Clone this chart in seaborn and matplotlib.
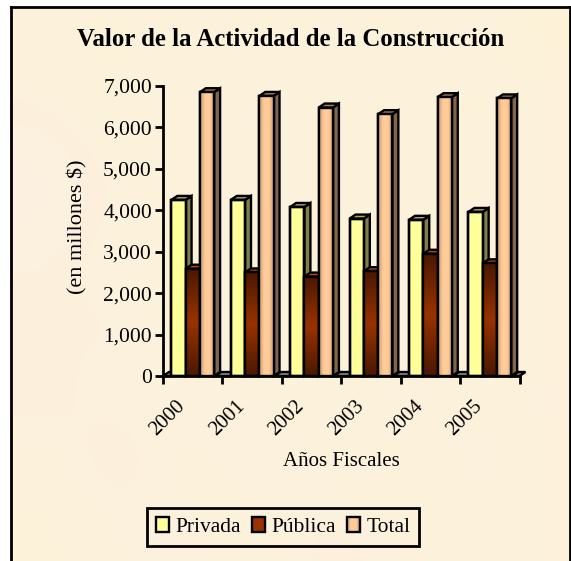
import numpy as np
import pandas as pd
import matplotlib
matplotlib.use("Agg")
import matplotlib.pyplot as plt
from matplotlib.patches import Patch, Polygon, Rectangle
from matplotlib.colors import LinearSegmentedColormap
from matplotlib.legend_handler import HandlerBase
from matplotlib.ticker import FuncFormatter, FixedLocator
from matplotlib.transforms import ScaledTranslation
import seaborn as sns

years = ["2000", "2001", "2002", "2003", "2004", "2005"]
privada = [4250, 4250, 4080, 3800, 3770, 3960]
publica = [2590, 2500, 2400, 2530, 2950, 2720]
total = [6850, 6760, 6480, 6320, 6730, 6700]
series = ["Privada", "Pública", "Total"]
y_ticks = [0, 1000, 2000, 3000, 4000, 5000, 6000, 7000]

W, H = 571, 561
sns.set_theme(style="white")
plt.rcParams["font.family"] = ["Liberation Serif", "DejaVu Serif"]

df = pd.DataFrame({
    "Año": years * 3,
    "Valor": privada + publica + total,
    "Serie": sum([[s] * len(years) for s in series], []),
})

fig = plt.figure(figsize=(W / 100, H / 100), dpi=100, facecolor="white")

# parchment panel
bg = fig.add_axes([11 / W, -6 / H, (W - 11 - 1) / W, (H - 7 + 6) / H], zorder=0)
tints = np.array([
    [0.25, 0.15, 0.30, 0.10, 0.25, 0.15, 0.30, 0.10],
    [0.35, 0.10, 0.30, 0.40, 0.15, 0.35, 0.10, 0.30],
    [0.60, 0.35, 0.15, 0.25, 0.35, 0.20, 0.30, 0.15],
    [0.45, 0.20, 0.35, 0.45, 0.20, 0.40, 0.15, 0.30],
    [0.30, 0.40, 0.20, 0.15, 0.35, 0.25, 0.40, 0.20],
    [0.40, 0.25, 0.40, 0.30, 0.20, 0.40, 0.20, 0.35],
    [0.25, 0.45, 0.20, 0.40, 0.30, 0.15, 0.40, 0.25],
    [0.15, 0.30, 0.35, 0.20, 0.40, 0.30, 0.20, 0.30],
])
paper = LinearSegmentedColormap.from_list("paper", ["#FDF3D6", "#FCF0E0", "#FFF6F0"])
bg.imshow(tints, cmap=paper, vmin=0, vmax=1, aspect="auto", interpolation="bicubic")
bg.set_xticks([]); bg.set_yticks([])
for k, s in bg.spines.items():
    s.set_linewidth(2)
    s.set_color("black")

ax = fig.add_axes([163 / W, 1 - 376 / H, (519.5 - 163) / W, (376 - 86) / H], zorder=1)
ax.patch.set_alpha(0)
palette = {"Privada": "#FFFF99", "Pública": "#993300", "Total": "#FFCC99"}
LW = 1.7
sns.barplot(data=df, x="Año", y="Valor", hue="Serie", palette=palette, width=0.72,
            gap=0, saturation=1, edgecolor="black", linewidth=LW, legend=False, ax=ax)
ax.set_xlim(-0.5, 5.5)
ax.set_ylim(0, 7000)

px_x = 6 * 6 / (519.5 - 163)      # depth, converted to data units
px_y = 4 * 7000 / (376 - 86)
side = {"Privada": "#7F7F4D", "Pública": "#4D1A00", "Total": "#806650"}
top = {"Privada": "#A8A868", "Pública": "#B34A10", "Total": "#A88058"}
brown = LinearSegmentedColormap.from_list("b", ["#4A1800", "#993300", "#4A1800"])
tan = LinearSegmentedColormap.from_list("t", ["#C99A70", "#FFCC99", "#FFCC99", "#C99A70"])

bars = list(ax.patches)
n = len(years)
for i, name in enumerate(series):
    for j in range(n):
        b = bars[i * n + j]
        x0, w, h = b.get_x(), b.get_width(), b.get_height()
        x1 = x0 + w
        z = 3 + j * 10 + i * 3
        b.set_zorder(z)
        ax.add_patch(Polygon([(x1, 0), (x1 + px_x, px_y), (x1 + px_x, h + px_y), (x1, h)],
                             fc=side[name], ec="black", lw=LW, zorder=z - 1, clip_on=False))
        ax.add_patch(Polygon([(x0, h), (x0 + px_x, h + px_y), (x1 + px_x, h + px_y), (x1, h)],
                             fc=top[name], ec="black", lw=LW, zorder=z - 1, clip_on=False))
        if name == "Pública":
            ax.imshow(np.linspace(0, 1, 64).reshape(-1, 1), cmap=brown, aspect="auto",
                      extent=(x0, x1, 0, h), zorder=z + 0.1)
        elif name == "Total":
            ax.imshow(np.linspace(0, 1, 32).reshape(1, -1), cmap=tan, aspect="auto",
                      extent=(x0, x1, 0, h), zorder=z + 0.1)
        ax.add_patch(Rectangle((x0, 0), w, h, fc="none", ec="black", lw=LW, zorder=z + 0.2))

# floor slabs of the empty slots between groups
half = bars[0].get_width() / 2
for c in range(n + 1):
    pos = c - 0.5
    left = max(pos - half, -0.5)
    right = min(pos + half, 5.5)
    if c == n:
        right = pos
    ax.add_patch(Polygon([(left, 0), (left + px_x, px_y), (right + px_x, px_y), (right, 0)],
                         fc="#8C8C8C", ec="black", lw=LW, zorder=2, clip_on=False))

ax.set_xlim(-0.5, 5.5)
ax.set_ylim(0, 7000)

for s in ["top", "right"]:
    ax.spines[s].set_visible(False)
for s in ["left", "bottom"]:
    ax.spines[s].set_linewidth(2)
    ax.spines[s].set_color("black")
    ax.spines[s].set_zorder(200)

ax.set_yticks(y_ticks)
ax.yaxis.set_major_formatter(FuncFormatter(lambda v, _: f"{int(v):,}"))
ax.tick_params(axis="y", length=6, width=2, color="black", labelsize=15.5, pad=2,
               left=True, labelcolor="black")
ax.xaxis.set_minor_locator(FixedLocator([c - 0.5 for c in range(n + 1)]))
ax.tick_params(axis="x", which="minor", length=6, width=2, color="black", bottom=True)
ax.tick_params(axis="x", which="major", length=0, labelsize=15, pad=20, labelcolor="black")
shift = ScaledTranslation(-10 / 100, 0, fig.dpi_scale_trans)
for lab in ax.get_xticklabels():
    lab.set_rotation(45)
    lab.set_ha("right")
    lab.set_va("center")
    lab.set_rotation_mode("anchor")
    lab.set_transform(lab.get_transform() + shift)

ax.set_xlabel("Años Fiscales", fontsize=15, color="black")
ax.xaxis.set_label_coords((341 - 163) / (519.5 - 163), -(461 - 376) / (376 - 86), ax.transAxes)
ax.xaxis.label.set_va("center")
ax.set_ylabel("(en millones $)", fontsize=16, color="black")
ax.yaxis.set_label_coords((77 - 163) / (519.5 - 163), (376 - 227) / (376 - 86), ax.transAxes)
ax.yaxis.label.set_va("center")

fig.text(291 / W, 1 - 39 / H, "Valor de la Actividad de la Construcción", fontsize=17.8,
         fontweight="bold", ha="center", va="center", color="black")


class GradientHandler(HandlerBase):
    def create_artists(self, legend, orig, xd, yd, width, height, fontsize, trans):
        arts = []
        steps = 8
        for k in range(steps):
            arts.append(Rectangle((xd + width * k / steps, -yd), width / steps, height,
                                  fc=tan((k + 0.5) / steps), ec="none", transform=trans))
        arts.append(Rectangle((xd, -yd), width, height, fc="none", ec="black", lw=LW,
                              transform=trans))
        return arts


handles = [Patch(fc="#FFFF99", ec="black", lw=LW, label=series[0]),
           Patch(fc="#993300", ec="black", lw=LW, label=series[1]),
           Patch(fc="#FFCC99", ec="black", lw=LW, label=series[2])]
leg = fig.legend(handles=handles, ncol=3, loc="center", bbox_to_anchor=(283 / W, 1 - 527 / H),
                 frameon=True, fancybox=False, edgecolor="black", facecolor="none",
                 fontsize=15.5, handlelength=0.62, handleheight=0.7, handletextpad=0.3,
                 columnspacing=0.5, borderpad=0.4, labelcolor="black",
                 handler_map={handles[2]: GradientHandler()})
leg.get_frame().set_alpha(None)
leg.get_frame().set_facecolor("none")
leg.get_frame().set_edgecolor("black")
leg.get_frame().set_linewidth(2)

fig.savefig("out.png", dpi=100)
